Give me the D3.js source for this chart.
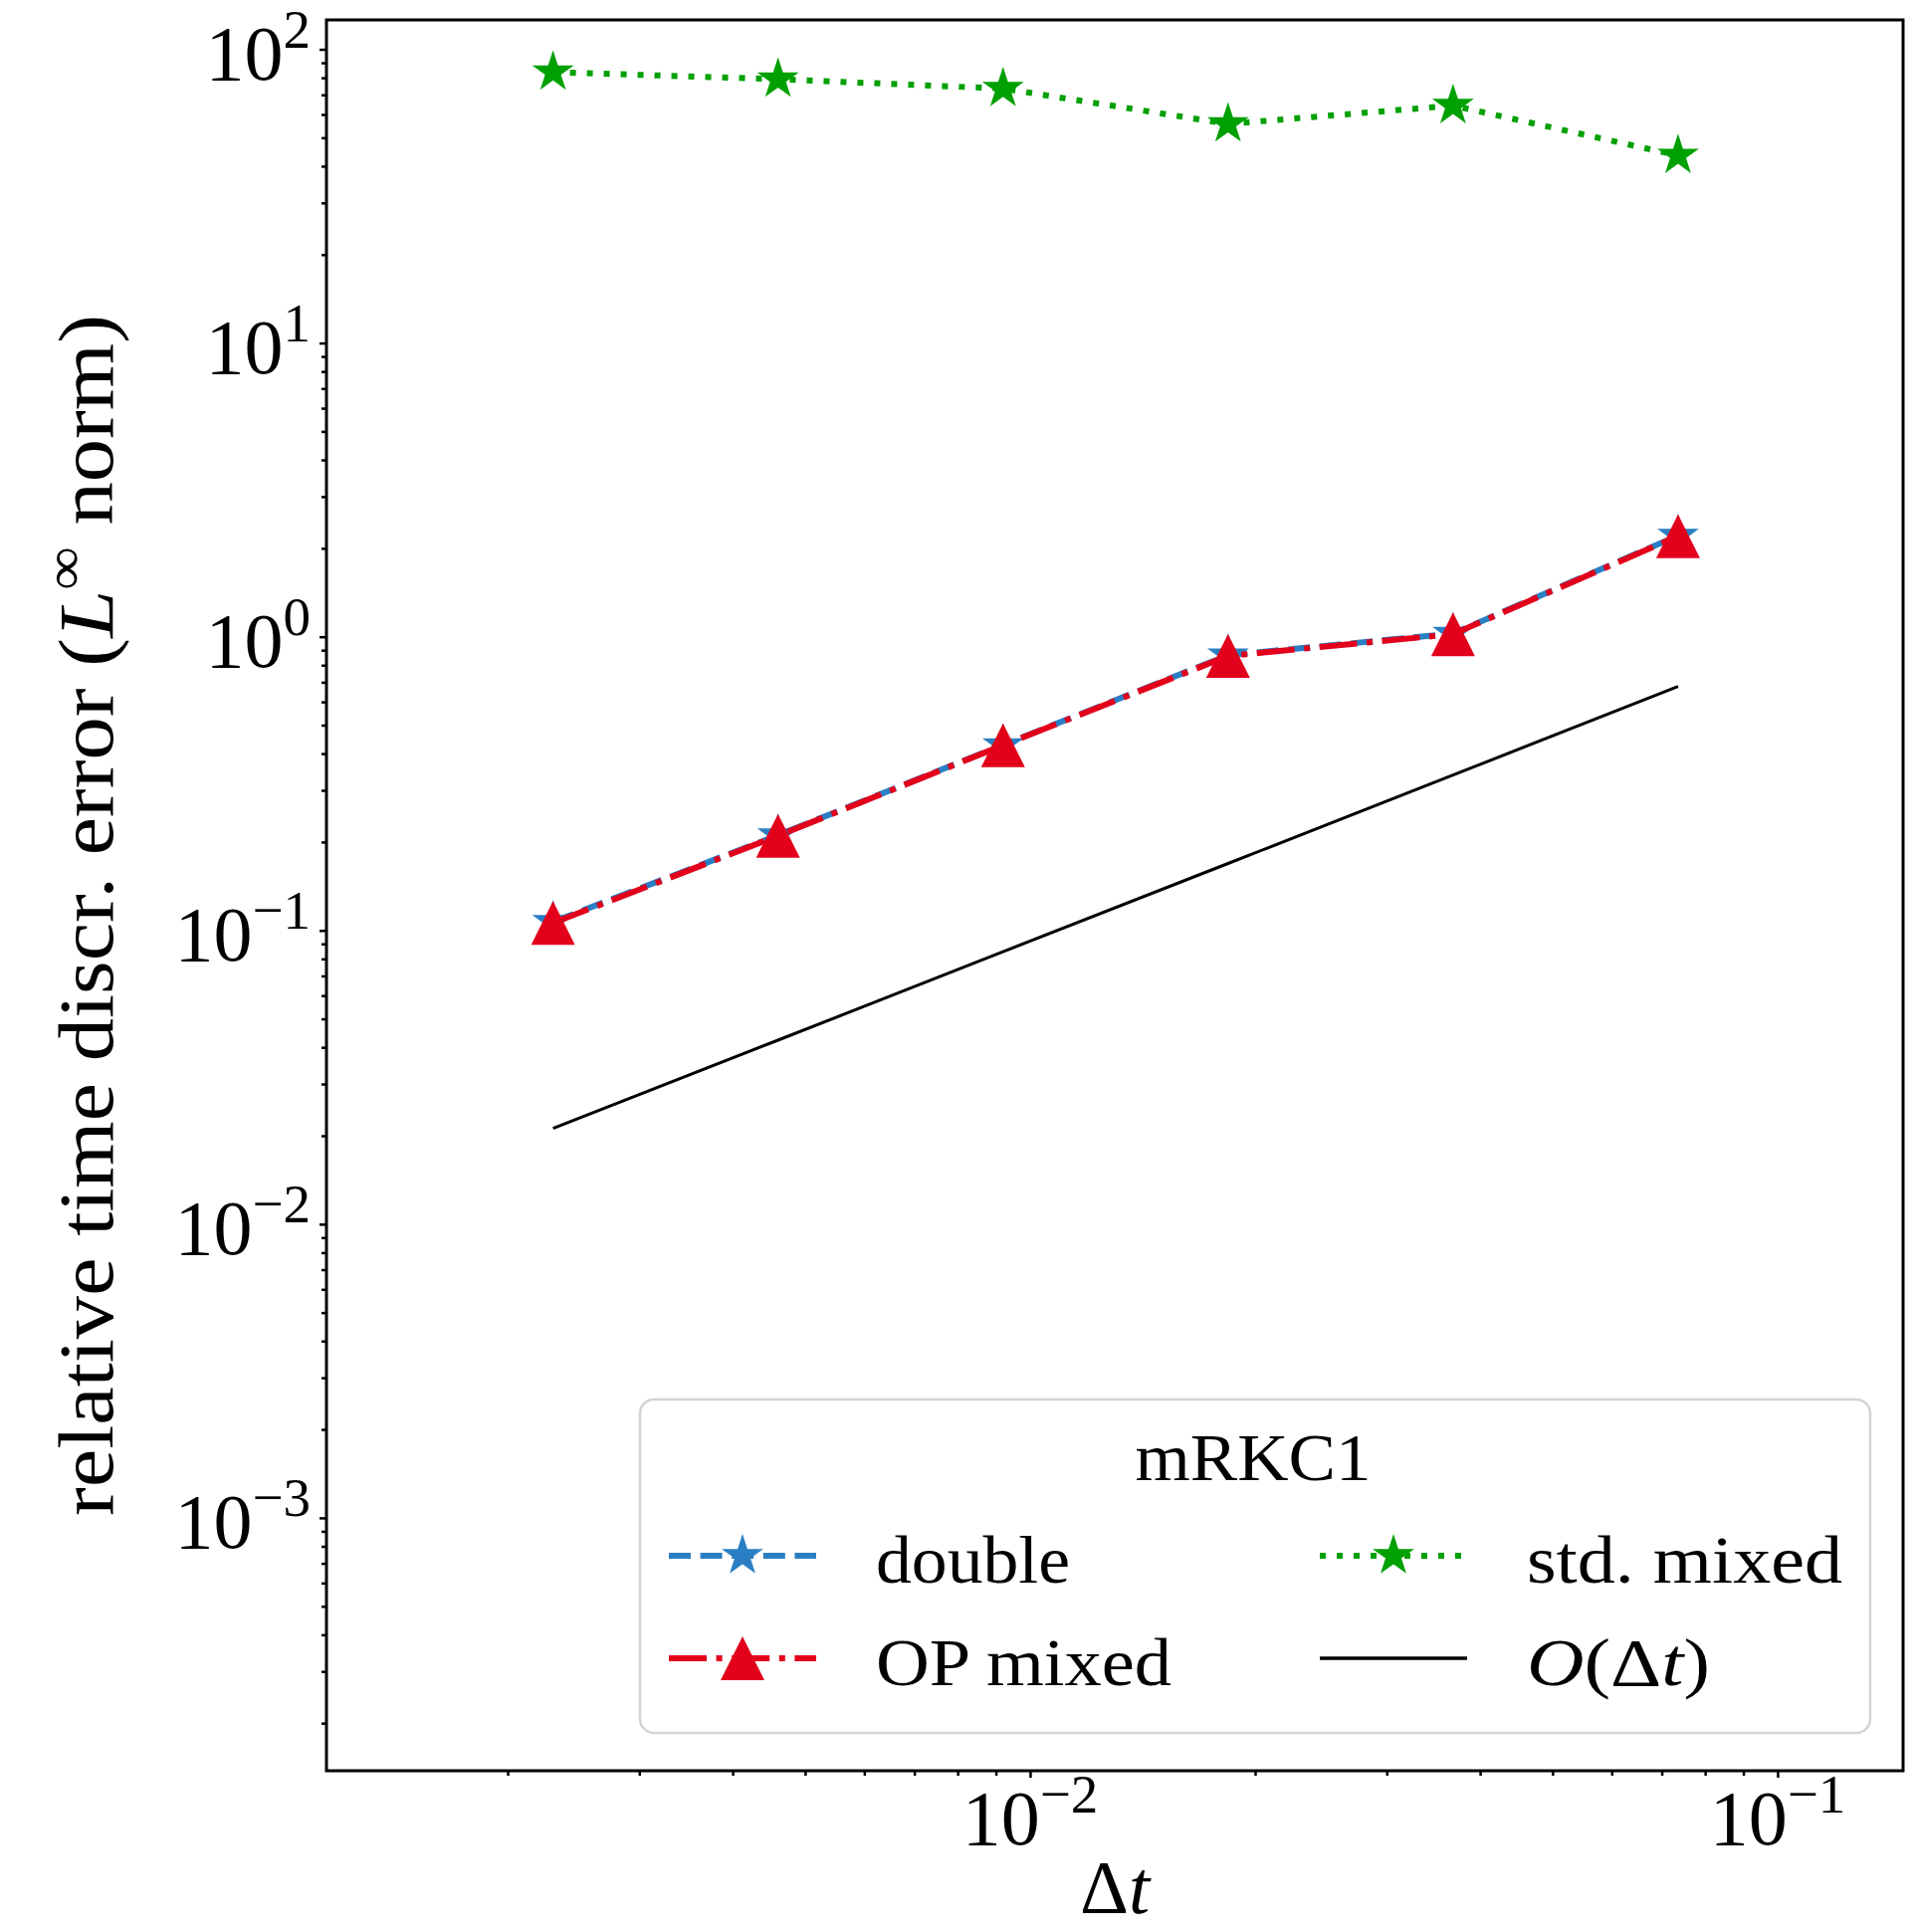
<!DOCTYPE html>
<html>
<head>
<meta charset="utf-8">
<script src="https://cdn.jsdelivr.net/npm/d3@7"></script>
<style>
  body { margin: 0; background: #fff; }
  text { font-family: "Liberation Serif", "DejaVu Serif", serif; fill: #000; }
</style>
</head>
<body>
<div id="chart"></div>
<script>
// step sizes and errors
var dt = [0.0023, 0.0046, 0.0092, 0.0184, 0.0368, 0.0736];
var errDouble = [0.107, 0.211, 0.428, 0.865, 1.025, 2.21];
var errOPMixed = [0.106, 0.210, 0.427, 0.860, 1.02, 2.20];
var errStdMixed = [83.6, 79.1, 73.5, 55.7, 64.3, 43.5];
var refOrder1 = [0.0212, 0.0423, 0.0846, 0.169, 0.338, 0.677];

var xMajor = [1e-2, 1e-1];
var yMajor = [1e-3, 1e-2, 1e-1, 1e0, 1e1, 1e2];
var xDomain = [1.1445e-3, 0.1472];
var yDomain = [1.377e-4, 125.9];

var legendTitle = "mRKC1";

var svgWidth = 1926;
var svgHeight = 1941;
var margin = { top: 20, right: 14, bottom: 162, left: 328 };
var width = svgWidth - margin.left - margin.right;
var height = svgHeight - margin.top - margin.bottom;

var svg = d3.select("#chart")
    .append("svg")
    .attr("width", svgWidth)
    .attr("height", svgHeight);

var chartGroup = svg.append("g")
    .attr("transform", `translate(${margin.left}, ${margin.top})`);

var x = d3.scaleLog().domain(xDomain).range([0, width]);
var y = d3.scaleLog().domain(yDomain).range([height, 0]);

var isMajor = d => Math.abs(Math.log10(d) - Math.round(Math.log10(d))) < 1e-9;
var xMinor = x.ticks().filter(d => !isMajor(d));
var yMinor = y.ticks().filter(d => !isMajor(d));

// axes: minor and major ticks, labels drawn separately
function styleAxis(g) {
    g.select(".domain").remove();
    g.selectAll("line").attr("stroke", "#000").attr("stroke-width", 2.5);
}
chartGroup.append("g")
    .attr("transform", `translate(0, ${height})`)
    .call(d3.axisBottom(x).tickValues(xMinor).tickSize(5).tickFormat(""))
    .call(styleAxis);
chartGroup.append("g")
    .attr("transform", `translate(0, ${height})`)
    .call(d3.axisBottom(x).tickValues(xMajor).tickSize(7).tickFormat(""))
    .call(styleAxis);
chartGroup.append("g")
    .call(d3.axisLeft(y).tickValues(yMinor).tickSize(5).tickFormat(""))
    .call(styleAxis);
chartGroup.append("g")
    .call(d3.axisLeft(y).tickValues(yMajor).tickSize(7).tickFormat(""))
    .call(styleAxis);

function powLabel(sel) {
    sel.append("tspan").text("10");
    sel.append("tspan")
        .attr("dy", -32)
        .attr("font-size", 55)
        .text(d => {
            var e = Math.round(Math.log10(d));
            return e < 0 ? "\u2212" + (-e) : "" + e;
        });
}

chartGroup.selectAll(".xlab")
    .data(xMajor)
    .enter()
    .append("text")
    .attr("class", "xlab")
    .attr("x", d => x(d))
    .attr("y", height + 74)
    .attr("text-anchor", "middle")
    .attr("font-size", 78)
    .call(powLabel);

chartGroup.selectAll(".ylab")
    .data(yMajor)
    .enter()
    .append("text")
    .attr("class", "ylab")
    .attr("x", -16)
    .attr("y", d => y(d) + 30)
    .attr("text-anchor", "end")
    .attr("font-size", 78)
    .call(powLabel);

// axis titles
var xTitle = svg.append("text")
    .attr("x", margin.left + width / 2)
    .attr("y", 1922)
    .attr("text-anchor", "middle")
    .attr("font-size", 76);
xTitle.append("tspan").text("\u0394");
xTitle.append("tspan").attr("font-style", "italic").text("t");

var yTitle = svg.append("text")
    .attr("transform", "translate(113, 1523) rotate(-90)")
    .attr("font-size", 78)
    .attr("textLength", 1207)
    .attr("lengthAdjust", "spacingAndGlyphs");
yTitle.append("tspan").text("relative time discr. error (");
yTitle.append("tspan").attr("font-style", "italic").text("L");
yTitle.append("tspan").attr("dy", -30).attr("font-size", 55).text("\u221e");
yTitle.append("tspan").attr("dy", 30).text(" norm)");

// series
var series = [
    { name: "double", values: errDouble, color: "#2a7fc4", dash: "22,9.6", marker: "star" },
    { name: "OP mixed", values: errOPMixed, color: "#e2001b", dash: "38,9.6,6,9.6", marker: "tri" },
    { name: "std. mixed", values: errStdMixed, color: "#00a000", dash: "6,11", marker: "star" },
    { name: "O(\u0394t)", values: refOrder1, color: "#000", dash: null, marker: null }
];

var starPath = d3.symbol().type(d3.symbolStar).size(22 * 22 / 0.8908130915292852)();
var triPath = "M0,-22L22,22L-22,22Z";

var line = d3.line()
    .x(d => x(d[0]))
    .y(d => y(d[1]));

series.forEach(s => {
    var pts = dt.map((d, i) => [d, s.values[i]]);
    chartGroup.append("path")
        .datum(pts)
        .attr("fill", "none")
        .attr("stroke", s.color)
        .attr("stroke-width", s.marker ? 6 : 3)
        .attr("stroke-dasharray", s.dash)
        .attr("d", line);
    if (s.marker) {
        chartGroup.selectAll(null)
            .data(pts)
            .enter()
            .append("path")
            .attr("d", s.marker == "star" ? starPath : triPath)
            .attr("fill", s.color)
            .attr("transform", d => `translate(${x(d[0])}, ${y(d[1])})`);
    }
});

// frame
chartGroup.append("rect")
    .attr("width", width)
    .attr("height", height)
    .attr("fill", "none")
    .attr("stroke", "#000")
    .attr("stroke-width", 3);

// legend (two columns, column-first)
var legend = svg.append("g");
legend.append("rect")
    .attr("x", 643)
    .attr("y", 1406)
    .attr("width", 1236)
    .attr("height", 335)
    .attr("rx", 14)
    .attr("fill", "#fff")
    .attr("fill-opacity", 0.8)
    .attr("stroke", "#d4d4d4")
    .attr("stroke-width", 2.5);
legend.append("text")
    .attr("x", 1259)
    .attr("y", 1487)
    .attr("text-anchor", "middle")
    .attr("font-size", 68)
    .attr("textLength", 237)
    .attr("lengthAdjust", "spacingAndGlyphs")
    .text(legendTitle);

var colX = [672, 1326];
var rowY = [1563, 1666];
var textLen = [195, 297, 317, 184];
series.forEach((s, i) => {
    var cx = colX[Math.floor(i / 2)];
    var cy = rowY[i % 2];
    var g = legend.append("g").attr("transform", `translate(${cx}, ${cy})`);
    g.append("line")
        .attr("x1", 0).attr("x2", 148)
        .attr("stroke", s.color)
        .attr("stroke-width", s.marker ? 6 : 3.5)
        .attr("stroke-dasharray", s.dash);
    if (s.marker) {
        g.append("path")
            .attr("d", s.marker == "star" ? starPath : triPath)
            .attr("fill", s.color)
            .attr("transform", "translate(74, 0)");
    }
    var t = g.append("text")
        .attr("x", 208)
        .attr("y", 27)
        .attr("font-size", 68)
        .attr("textLength", textLen[i])
        .attr("lengthAdjust", "spacingAndGlyphs");
    if (s.marker) {
        t.text(s.name);
    } else {
        t.append("tspan").attr("font-style", "italic").text("O");
        t.append("tspan").text("(\u0394");
        t.append("tspan").attr("font-style", "italic").text("t");
        t.append("tspan").text(")");
    }
});
</script>
</body>
</html>
